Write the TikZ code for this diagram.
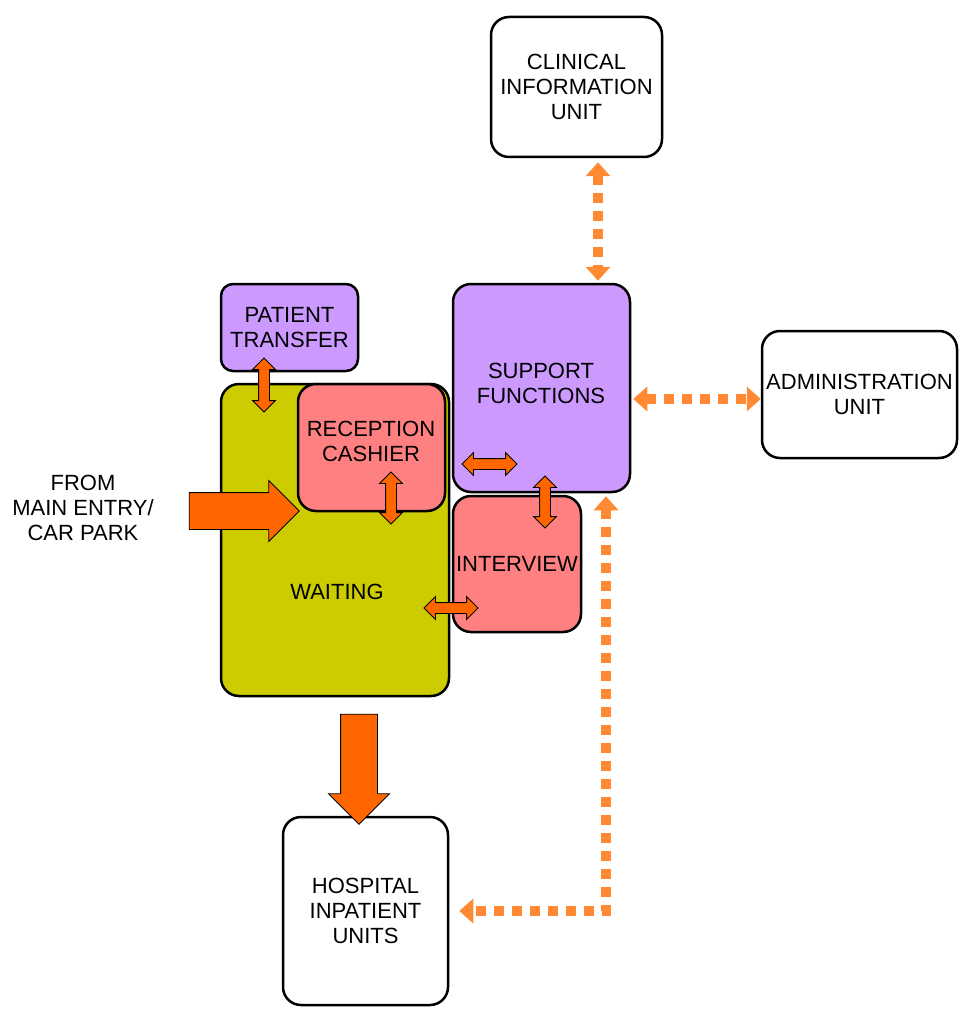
\documentclass[tikz,border=0pt]{standalone}
\usepackage{fontspec}
\setmainfont{Liberation Sans}
\usetikzlibrary{shapes.arrows,arrows.meta}
\definecolor{lilac}{HTML}{CC99FF}
\definecolor{olive}{HTML}{CCCC00}
\definecolor{salmon}{HTML}{FF8080}
\definecolor{flow}{HTML}{FF6600}
\definecolor{dots}{HTML}{FF8A33}
\tikzset{
  room/.style={draw=black,line width=2.5pt,rounded corners=18pt,align=center,
    font=\fontsize{22}{25}\selectfont,inner sep=2pt},
  link/.style={double arrow,draw=black,fill=flow,line width=0.8pt,
    inner xsep=0pt,inner ysep=5pt,double arrow head extend=6pt},
  flowarrow/.style={single arrow,draw=black,fill=flow,line width=0.8pt,
    inner xsep=0pt,inner ysep=18pt,single arrow head extend=12pt,minimum height=110pt},
  dotline/.style={draw=dots,line width=10pt,dash pattern=on 10pt off 8pt,
    {Triangle[length=14pt,width=24pt]}-{Triangle[length=14pt,width=24pt]}}
}
\begin{document}
\begin{tikzpicture}[x=1pt,y=-1pt]
\useasboundingbox (0,0) rectangle (968,1024);
% rooms
\node[room,minimum width=171pt,minimum height=140pt] (clinical) at (576.5,87) {CLINICAL\\INFORMATION\\UNIT};
\node[room,fill=lilac,rounded corners=12pt,minimum width=137pt,minimum height=87pt] (transfer) at (289.5,327.5) {PATIENT\\TRANSFER};
\node[room,fill=olive,minimum width=228pt,minimum height=312pt] (waiting) at (335,540) {};
\node[font=\fontsize{22}{25}\selectfont] (waitlabel) at (337,592) {WAITING};
\node[room,fill=salmon,minimum width=147pt,minimum height=127pt] (reception) at (371.5,447.5) {};
\node[font=\fontsize{22}{25}\selectfont,align=center] (reclabel) at (371,441) {RECEPTION\\CASHIER};
\node[room,fill=lilac,minimum width=177pt,minimum height=208pt] (support) at (541.5,388) {};
\node[font=\fontsize{22}{25}\selectfont,align=center] (suplabel) at (541,383) {SUPPORT\\FUNCTIONS};
\node[room,fill=salmon,minimum width=128pt,minimum height=136pt] (interview) at (517,564) {INTERVIEW};
\node[room,minimum width=195pt,minimum height=127pt] (admin) at (859.5,394.5) {ADMINISTRATION\\UNIT};
\node[room,minimum width=165pt,minimum height=188pt] (hospital) at (365.5,911) {HOSPITAL\\INPATIENT\\UNITS};
\node[align=center,font=\fontsize{22}{25}\selectfont] (entry) at (83,508) {FROM\\MAIN ENTRY/\\CAR PARK};
% flow arrows
\node[flowarrow] (inflow) at (235,511) {};
\node[flowarrow,rotate=-90] (outflow) at (359,760) {};
% links
\node[link,rotate=90,minimum height=54pt] (l1) at (264,385) {};
\node[link,rotate=90,minimum height=52pt] (l2) at (391,498) {};
\node[link,minimum height=55pt] (l3) at (489.5,464) {};
\node[link,rotate=90,minimum height=52pt] (l4) at (545,502) {};
\node[link,minimum height=54pt] (l5) at (451,608) {};
% dotted connections
\draw[dotline] ([xshift=21.5pt,yshift=-4pt]clinical.south) -- ([xshift=56.5pt,yshift=2pt]support.north);
\draw[dotline] ([xshift=2pt,yshift=-11pt]support.east) -- ([yshift=-4.5pt]admin.west);
\draw[dotline] ([xshift=64.5pt,yshift=-3pt]support.south) |- ([xshift=10pt]hospital.east);
\end{tikzpicture}
\end{document}
